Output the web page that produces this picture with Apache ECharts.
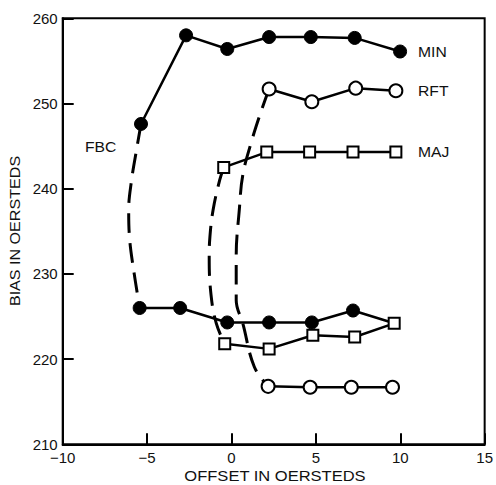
<!DOCTYPE html>
<html>
<head>
<meta charset="utf-8">
<script src="https://cdn.jsdelivr.net/npm/echarts@6/dist/echarts.min.js"></script>
<style>html,body{margin:0;padding:0;background:#fff}#c{width:496px;height:485px}</style>
</head>
<body>
<div id="c"></div>
<script>
// Axis ticks
var xTicks = [-10, -5, 0, 5, 10, 15];
var yTicks = [210, 220, 230, 240, 250, 260];

// Upper branch (MIN), filled circles
var minUpper = [[-5.36, 247.6], [-2.69, 258.0], [-0.25, 256.4], [2.23, 257.8], [4.70, 257.8], [7.30, 257.7], [9.99, 256.1]];
// Lower branch (MIN), filled circles, ends at the MAJ lower end point
var minLower = [[-5.44, 226.0], [-3.04, 226.0], [-0.25, 224.3], [2.23, 224.3], [4.76, 224.3], [7.20, 225.7]];
var minLowerEnd = [9.64, 224.2];
// RFT open circles
var rftUpper = [[2.23, 251.7], [4.76, 250.2], [7.36, 251.8], [9.74, 251.5]];
var rftLower = [[2.17, 216.8], [4.66, 216.7], [7.10, 216.7], [9.54, 216.7]];
// MAJ open squares
var majUpper = [[-0.46, 242.5], [2.09, 244.3], [4.63, 244.3], [7.20, 244.3], [9.74, 244.3]];
var majLower = [[-0.40, 221.8], [2.23, 221.2], [4.82, 222.8], [7.30, 222.6], [9.64, 224.2]];
// Dashed connecting curves (FBC)
var fbcMin = [[-5.36, 247.6], [-5.65, 244.3], [-5.92, 241.0], [-6.09, 237.5], [-6.03, 234.0], [-5.80, 230.5], [-5.44, 226.0]];
var fbcMaj = [[-0.46, 242.5], [-0.70, 241.0], [-1.09, 237.5], [-1.28, 234.3], [-1.32, 231.9], [-1.21, 227.5], [-0.90, 224.2], [-0.40, 221.8]];
var fbcRft = [[2.23, 251.7], [1.74, 249.0], [1.15, 245.3], [0.67, 241.6], [0.47, 237.7], [0.28, 232.0], [0.28, 226.9], [0.67, 224.2], [1.35, 219.1], [2.17, 216.8]];

var curveLabels = [
  {text: 'MIN', x: 418, y: 52},
  {text: 'RFT', x: 418, y: 91},
  {text: 'MAJ', x: 418, y: 152},
  {text: 'FBC', x: 85, y: 147}
];

var FONT = 'Liberation Sans, Arial, Helvetica, sans-serif';
var chart = echarts.init(document.getElementById('c'), null, {renderer: 'svg'});

function solid(data, symbol, filled, size) {
  return {
    type: 'line', data: data, symbol: symbol, symbolSize: size,
    z: 5,
    lineStyle: {color: '#000', width: 2.5},
    itemStyle: filled ? {color: '#000', borderColor: '#000', borderWidth: 1}
                      : {color: '#fff', borderColor: '#000', borderWidth: 2},
    emphasis: {disabled: true}, animation: false
  };
}
function dashed(data) {
  return {
    type: 'line', data: data, symbol: 'none', smooth: 0.4, z: 3,
    lineStyle: {color: '#000', width: 3, type: [20, 10]},
    emphasis: {disabled: true}, animation: false
  };
}

var option = {
  animation: false,
  grid: {left: 62.7, right: 6, top: 18.3, bottom: 40.7, show: true, borderColor: '#000', borderWidth: 2},
  xAxis: {
    type: 'value', min: xTicks[0], max: xTicks[xTicks.length - 1], interval: 5,
    axisLine: {show: true, onZero: false, lineStyle: {color: '#000', width: 2}},
    axisTick: {show: true, inside: true, length: 11, lineStyle: {color: '#000', width: 2}},
    axisLabel: {color: '#111', fontSize: 15, fontFamily: FONT, margin: 6,
      formatter: function (v) { return v < 0 ? '\u2212' + Math.abs(v) : String(v); }},
    splitLine: {show: false}
  },
  yAxis: {
    type: 'value', min: yTicks[0], max: yTicks[yTicks.length - 1], interval: 10,
    axisLine: {show: true, onZero: false, lineStyle: {color: '#000', width: 2}},
    axisTick: {show: true, inside: true, length: 11, lineStyle: {color: '#000', width: 2}},
    axisLabel: {color: '#111', fontSize: 15, fontFamily: FONT, margin: 5},
    splitLine: {show: false}
  },
  graphic: [
    {type: 'text', x: 275, y: 476, scaleX: 1.18,
      style: {text: 'OFFSET IN OERSTEDS', fill: '#111', font: '14px ' + FONT, align: 'center', verticalAlign: 'middle'}},
    {type: 'text', x: 15, y: 231, rotation: Math.PI / 2, scaleX: 1.15,
      style: {text: 'BIAS IN OERSTEDS', fill: '#111', font: '14px ' + FONT, align: 'center', verticalAlign: 'middle'}}
  ].concat(curveLabels.map(function (l) {
    return {type: 'text', x: l.x, y: l.y, scaleX: 1.12,
      style: {text: l.text, fill: '#111', font: '14px ' + FONT, align: 'left', verticalAlign: 'middle'}};
  })),
  series: [
    dashed(fbcMin), dashed(fbcMaj), dashed(fbcRft),
    solid(minUpper, 'circle', true, 13),
    solid(minLower.concat([{value: minLowerEnd, symbol: 'none'}]), 'circle', true, 13),
    solid(rftUpper, 'circle', false, 13),
    solid(rftLower, 'circle', false, 13),
    Object.assign(solid(majUpper, 'rect', false, 11), {z: 6}),
    Object.assign(solid(majLower, 'rect', false, 11), {z: 6})
  ]
};
chart.setOption(option);
</script>
</body>
</html>
